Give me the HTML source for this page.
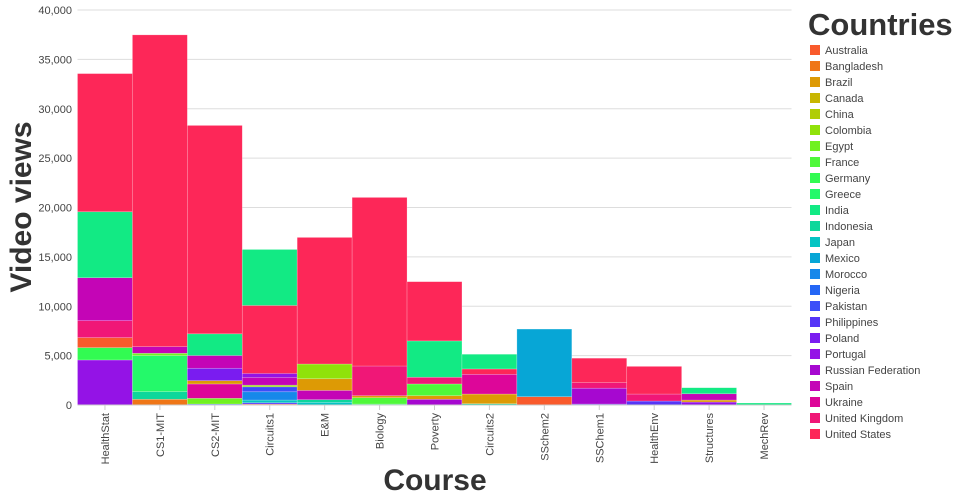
<!DOCTYPE html>
<html><head><meta charset="utf-8"><style>
body{margin:0;background:#fff;}
svg{display:block;font-family:"Liberation Sans",sans-serif;}
</style></head><body>
<svg id="chart" width="960" height="500"></svg>
<script>
const courses=['HealthStat','CS1-MIT','CS2-MIT','Circuits1','E&M','Biology','Poverty','Circuits2','SSchem2','SSChem1','HealthEnv','Structures','MechRev'];
const countries=['Australia','Bangladesh','Brazil','Canada','China','Colombia','Egypt','France','Germany','Greece','India','Indonesia','Japan','Mexico','Morocco','Nigeria','Pakistan','Philippines','Poland','Portugal','Russian Federation','Spain','Ukraine','United Kingdom','United States'];
const colors=['#f95a2c','#ef7617','#dd9a05','#c8b602','#b0cd05','#90e20a','#70f120','#4ff83a','#32fb52','#24f96a','#12ea84','#0ed79b','#04c4c3','#07a6d6','#1688ea','#2466f5','#3c4ef8','#5535f7','#7a1cf0','#9413e6','#a608d0','#c405b6','#dd0699','#f01777','#fd2758'];
// stacks bottom-to-top per course: [country, views]
const sHealthStat=[['Portugal',4560],['Germany',1250],['Australia',1010],['United Kingdom',1720],['Spain',4350],['India',6680],['United States',13990]];
const sCS1=[['Bangladesh',580],['Indonesia',770],['Greece',3650],['Egypt',240],['Spain',670],['United States',31570]];
const sCS2=[['Nigeria',100],['Egypt',580],['Ukraine',1450],['Brazil',340],['Poland',1250],['Spain',1290],['India',2200],['United States',21100]];
const sCircuits1=[['Australia',100],['Philippines',130],['Japan',270],['Morocco',840],['Pakistan',500],['Colombia',170],['Spain',780],['Portugal',400],['United States',6890],['India',5670]];
const sEM=[['Japan',270],['Indonesia',270],['Spain',940],['Brazil',1180],['Colombia',1490],['United States',12820]];
const sBiology=[['Greece',100],['France',640],['Brazil',200],['United Kingdom',3010],['United States',17070]];
const sPoverty=[['Russian Federation',580],['Brazil',370],['France',1180],['United Kingdom',680],['India',3680],['United States',6000]];
const sCircuits2=[['Indonesia',130],['Brazil',980],['Ukraine',2000],['United States',540],['India',1490]];
const sSSchem2=[['Australia',840],['Mexico',6850]];
const sSSChem1=[['Philippines',100],['Russian Federation',1600],['United Kingdom',570],['United States',2470]];
const sHealthEnv=[['Philippines',400],['United Kingdom',710],['United States',2800]];
const sStructures=[['Portugal',300],['Brazil',200],['Spain',640],['India',610]];
const sMechRev=[['India',200]];
const stacks=[sHealthStat,sCS1,sCS2,sCircuits1,sEM,sBiology,sPoverty,sCircuits2,sSSchem2,sSSChem1,sHealthEnv,sStructures,sMechRev];
const yTicks=[0,5000,10000,15000,20000,25000,30000,35000,40000];

const NS='http://www.w3.org/2000/svg';
const svg=document.getElementById('chart');
const X0=77.5,X1=791.5,Y0=405,Y1=10,YMAX=40000;
const bw=(X1-X0)/courses.length;
const xs=i=>X0+i*bw;
const ys=v=>Y0-(v/YMAX)*(Y0-Y1);
function mk(t,a,p){const e=document.createElementNS(NS,t);for(const k in a)e.setAttribute(k,a[k]);(p||svg).appendChild(e);return e;}

const grid=mk('g',{});


yTicks.forEach(t=>{
  const l=mk('line',{x1:X0,x2:X1,y1:ys(t),y2:ys(t),stroke:'#ddd','stroke-width':1},grid);
  
  
  const tx=mk('text',{x:72,y:ys(t)+4,'text-anchor':'end','font-size':11,fill:'#444'});
  tx.textContent=t.toLocaleString('en-US');
  
  
});

const bars=mk('g',{});


stacks.forEach((st,i)=>{
  let cum=0;
  st.forEach(([c,v])=>{
    const ci=countries.indexOf(c);
    const r=mk('rect',{x:xs(i),width:bw,y:ys(cum+v),height:ys(cum)-ys(cum+v),fill:colors[ci],stroke:'rgba(255,255,255,0.35)','stroke-width':0.6},bars);
    
    
    cum+=v;
  });
});

mk('line',{x1:X0,x2:X1,y1:Y0,y2:Y0,stroke:'#ccc','stroke-width':1});
courses.forEach((c,i)=>{
  const cx=xs(i)+bw/2;
  const tk=mk('line',{x1:cx,x2:cx,y1:Y0,y2:Y0+5,stroke:'#ccc'});
  
  
  const t=mk('text',{x:0,y:0,'text-anchor':'end','font-size':11,fill:'#444',transform:`translate(${cx+4},${Y0+8}) rotate(-90)`});
  t.textContent=c;
  
  
});

const yt=mk('text',{x:0,y:0,'text-anchor':'middle','font-size':30,'font-weight':'bold',fill:'#333',transform:'translate(31,207) rotate(-90)'});
yt.textContent='Video views';


const xt=mk('text',{x:435,y:490,'text-anchor':'middle','font-size':30,'font-weight':'bold',fill:'#333'});
xt.textContent='Course';



const lg=mk('g',{});


const lt=mk('text',{x:808,y:35,'font-size':31,'font-weight':'bold',fill:'#333'},lg);
lt.textContent='Countries';


countries.forEach((c,i)=>{
  const y=50+i*16;
  const g=mk('g',{},lg);
  
  
  mk('rect',{x:810,y:y-5,width:10,height:10,fill:colors[i]},g);
  const t=mk('text',{x:825,y:y+4,'font-size':11,fill:'#444'},g);
  t.textContent=c;
});
</script>
</body></html>
